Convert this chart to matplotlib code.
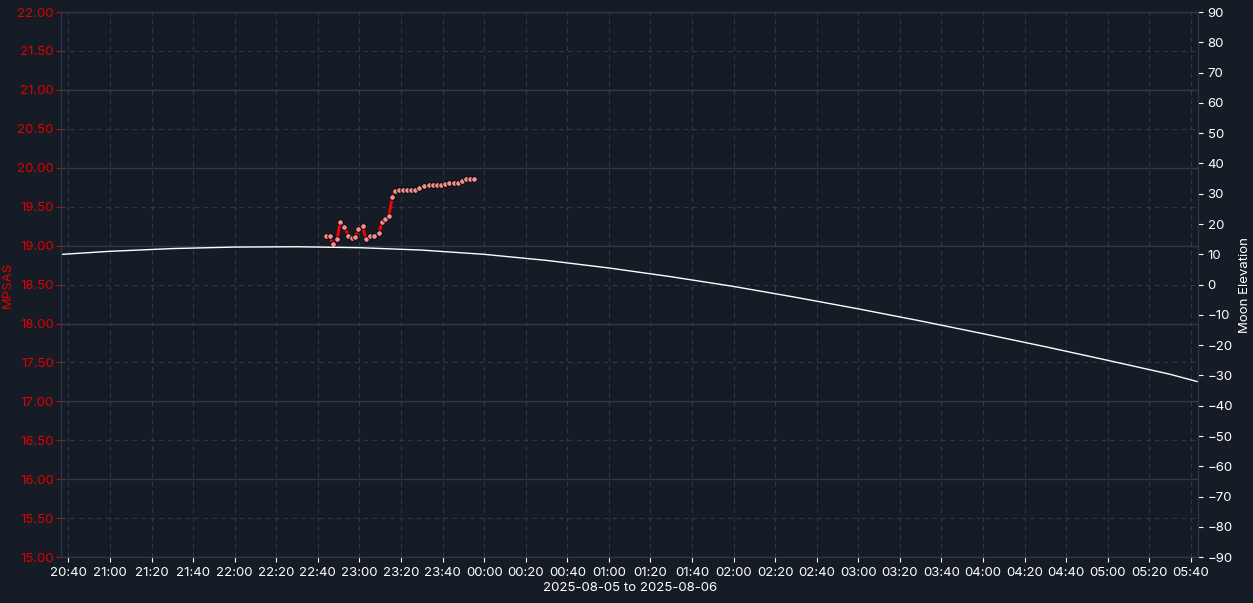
import numpy as np
import pandas as pd
import matplotlib.pyplot as plt
import matplotlib.dates as mdates

plt.rcParams['font.family'] = ['Inter', 'DejaVu Sans']

# MPSAS readings: minutes after 22:44 and values
mpsas_minutes = [0, 1.6, 3.2, 5.2, 6.8, 8.7, 10.7, 12.3, 13.9, 15.5, 17.5, 19.1, 21.1, 23.0,
                 25.3, 26.9, 28.5, 30.1, 31.8, 33.0, 35.0, 36.9, 38.9, 40.8, 42.8, 44.8, 47.0,
                 49.3, 51.5, 53.5, 55.4, 57.4, 59.3, 61.6, 63.6, 65.5, 67.4, 69.4, 70.9]
mpsas_values = [19.13, 19.12, 19.02, 19.08, 19.31, 19.24, 19.13, 19.10, 19.11, 19.21, 19.25,
                19.08, 19.12, 19.13, 19.16, 19.30, 19.34, 19.38, 19.62, 19.70, 19.71, 19.71,
                19.72, 19.71, 19.72, 19.74, 19.76, 19.78, 19.78, 19.78, 19.78, 19.79, 19.80,
                19.80, 19.81, 19.83, 19.85, 19.85, 19.85]

# Moon elevation samples
moon_times = ["2025-08-05 20:37", "2025-08-05 21:00", "2025-08-05 21:30", "2025-08-05 22:00",
              "2025-08-05 22:30", "2025-08-05 23:00", "2025-08-05 23:30", "2025-08-06 00:00",
              "2025-08-06 00:30", "2025-08-06 01:00", "2025-08-06 01:30", "2025-08-06 02:00",
              "2025-08-06 02:30", "2025-08-06 03:00", "2025-08-06 03:30", "2025-08-06 04:00",
              "2025-08-06 04:30", "2025-08-06 05:00", "2025-08-06 05:30", "2025-08-06 05:43"]
moon_elev = [10.0, 11.0, 11.9, 12.4, 12.5, 12.2, 11.4, 10.0, 8.0, 5.5, 2.6, -0.6, -4.2,
             -8.0, -12.0, -16.2, -20.5, -25.0, -29.6, -32.0]

bg = "#151c25"
grid_c = "#2b3b4c"
red = "#e00000"

t0 = pd.Timestamp("2025-08-05 22:44")
mpsas_t = [t0 + pd.Timedelta(minutes=m) for m in mpsas_minutes]
moon_t = pd.to_datetime(moon_times)

fig, ax = plt.subplots(figsize=(12.53, 6.03), dpi=100)
fig.patch.set_facecolor(bg)
ax.set_facecolor(bg)
fig.subplots_adjust(left=0.049, right=0.956, top=0.98, bottom=0.076)

ax2 = ax.twinx()
ax2.plot(moon_t, moon_elev, color="white", lw=1)
ax2.set_ylim(-90, 90)
ax2.set_yticks(range(-90, 91, 10))
ax2.set_ylabel("Moon Elevation", color="white", fontsize=9.5)
ax2.tick_params(colors="white", labelsize=9.5)

ax.plot(mpsas_t, mpsas_values, color="red", lw=2, zorder=3,
        marker="o", ms=4, mfc="#f09090", mec="black", mew=0.6)
ax.set_ylim(15, 22)
ax.set_yticks(np.arange(15, 22.01, 0.5))
ax.yaxis.set_major_formatter(plt.FuncFormatter(lambda v, p: f"{v:.2f}"))
ax.set_ylabel("MPSAS", color=red, fontsize=9.5)
ax.yaxis.set_label_coords(-0.042, 0.5)
ax.tick_params(axis="y", colors=red, labelsize=9.5, pad=2)
ax.tick_params(axis="x", colors="white", labelsize=9.5)

ax.set_xlim(pd.Timestamp("2025-08-05 20:36:36"), pd.Timestamp("2025-08-06 05:43:24"))
ax.xaxis.set_major_locator(mdates.MinuteLocator(byminute=[0, 20, 40]))
ax.xaxis.set_major_formatter(mdates.DateFormatter("%H:%M"))
ax.set_xlabel("2025-08-05 to 2025-08-06", color="white", fontsize=9.5, labelpad=2)

for v in range(15, 23):
    ax.axhline(v, color=grid_c, lw=1, zorder=0)
for v in np.arange(15.5, 22, 1.0):
    ax.axhline(v, color=grid_c, lw=0.8, ls=(0, (4, 4)), zorder=0)
ax.grid(axis="x", color=grid_c, lw=0.8, ls=(0, (4, 4)))

for a in (ax, ax2):
    for s in a.spines.values():
        s.set_color(grid_c)

fig.savefig("out.png", facecolor=bg)
